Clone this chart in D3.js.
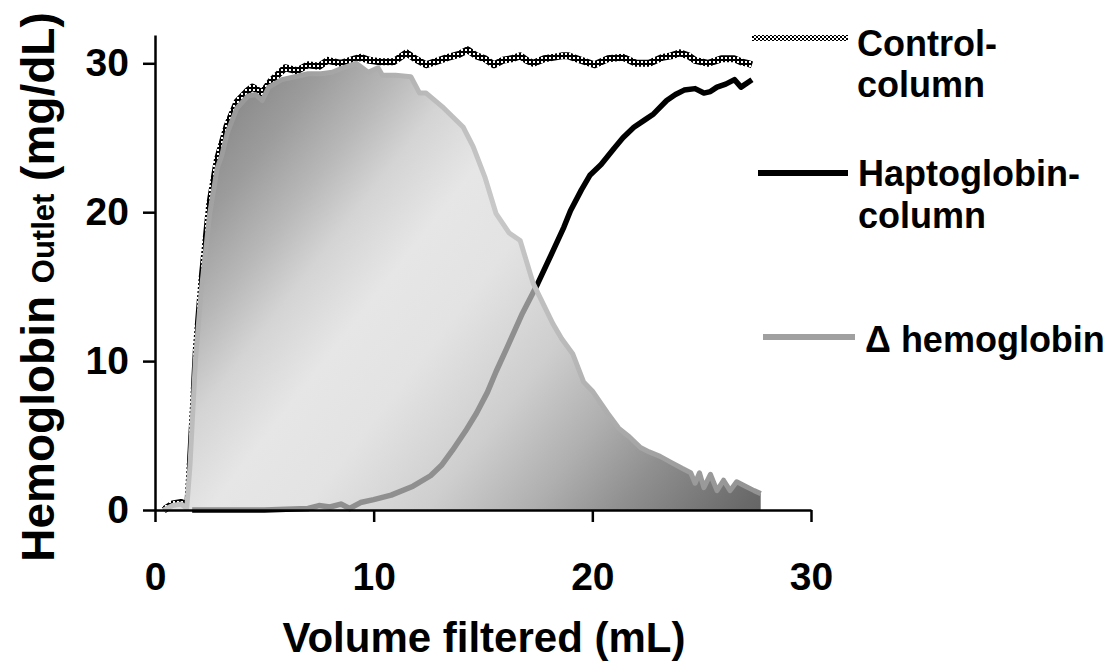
<!DOCTYPE html>
<html lang="en">
<head>
<meta charset="UTF-8">
<title>Hemoglobin outlet vs volume filtered</title>
<script src="https://d3js.org/d3.v7.min.js"></script>
<style>
  body { margin: 0; background: #fff; }
  svg text { font-family: Arial, "Liberation Sans", sans-serif; font-weight: bold; fill: #000; }
</style>
</head>
<body>
<div id="chart"></div>
<script>
// values (volume in mL, hemoglobin in mg/dL)
const controlVol = [0.4, 0.8, 1.2, 1.5, 1.65, 1.9, 2.15, 2.5, 2.85, 3.3, 3.75, 4.2, 4.45, 4.9, 5.3, 5.95, 6.5, 7.0, 7.5, 7.9, 8.5, 9.15, 9.4, 9.8, 10.3, 10.9, 11.5, 11.9, 12.4, 13.0, 13.4, 13.9, 14.3, 14.7, 15.1, 15.5, 15.9, 16.3, 16.7, 17.0, 17.3, 17.8, 18.2, 18.6, 18.9, 19.5, 20.1, 20.7, 21.4, 22.0, 22.6, 23.2, 23.6, 24.0, 24.4, 24.7, 25.3, 25.9, 26.5, 26.8, 27.1, 27.3];
const controlHb = [0, 0.4, 0.5, 0.3, 4, 11, 15.5, 20.5, 23.5, 25.8, 27.4, 28.1, 28.4, 28.0, 28.8, 29.7, 29.5, 29.9, 29.8, 30.2, 30.0, 30.3, 30.4, 30.2, 30.1, 30.1, 30.7, 30.3, 29.9, 30.2, 30.4, 30.6, 30.9, 30.5, 30.3, 29.9, 30.2, 30.3, 30.5, 30.2, 30.0, 30.3, 30.4, 30.5, 30.5, 30.2, 29.9, 30.3, 30.4, 30.0, 30.0, 30.4, 30.5, 30.7, 30.5, 30.2, 30.0, 30.3, 30.3, 30.1, 30.0, 29.9];

const haptoVol = [1.7, 3, 5, 7, 7.5, 8, 8.5, 8.9, 9.4, 10, 10.8, 11.8, 12.6, 13.1, 13.6, 14.2, 14.7, 15.2, 15.6, 16.1, 16.8, 17.5, 18.2, 18.7, 19.0, 19.5, 19.9, 20.4, 21.0, 21.4, 21.9, 22.4, 22.8, 23.4, 23.8, 24.2, 24.7, 25.1, 25.4, 25.7, 26.1, 26.5, 26.8, 27.3];
const haptoHb = [0, 0, 0, 0.1, 0.3, 0.2, 0.4, 0.1, 0.5, 0.7, 1.0, 1.6, 2.3, 3.0, 4.0, 5.3, 6.5, 7.9, 9.3, 10.9, 13.2, 15.2, 17.4, 19.0, 20.1, 21.5, 22.5, 23.2, 24.3, 25.0, 25.7, 26.2, 26.6, 27.5, 27.9, 28.2, 28.3, 28.0, 28.1, 28.4, 28.6, 28.9, 28.4, 28.9];

const deltaVol = [0.4, 0.8, 1.2, 1.45, 1.6, 1.85, 2.1, 2.5, 2.85, 3.05, 3.3, 3.75, 4.25, 4.6, 4.9, 5.2, 5.8, 6.4, 7.0, 7.6, 8.1, 8.6, 9.2, 9.75, 10.2, 10.4, 11.0, 11.7, 12.1, 12.4, 13.2, 14.1, 14.55, 15.1, 15.6, 16.2, 16.7, 17.3, 18.2, 18.6, 19.1, 19.6, 20.0, 20.7, 21.2, 21.7, 22.2, 22.6, 23.1, 23.6, 24.1, 24.5, 24.7, 24.9, 25.1, 25.4, 25.7, 26.0, 26.3, 26.6, 27.0, 27.4, 27.7];
const deltaHb = [0, 0.3, 0.4, 0.1, 3, 10.1, 14.5, 19.9, 23, 23.8, 25.3, 27.0, 27.8, 27.9, 27.5, 28.4, 28.9, 29.1, 29.3, 29.3, 29.4, 29.7, 30.0, 29.4, 29.7, 29.2, 29.2, 29.1, 28.0, 28.0, 27.0, 25.7, 24.4, 22.3, 19.9, 18.6, 18.1, 15.2, 12.5, 11.5, 10.5, 8.6, 8.0, 6.5, 5.5, 4.9, 4.2, 3.9, 3.6, 3.2, 2.8, 2.5, 1.8, 2.5, 1.5, 2.4, 1.3, 2.0, 1.3, 1.9, 1.6, 1.3, 1.1];

const xTicks = [0, 10, 20, 30];
const yTicks = [0, 10, 20, 30];
const legendLabels = [["Control-", "column"], ["Haptoglobin-", "column"], ["\u0394 hemoglobin"]];

const W = 1120, H = 664;
const svg = d3.select("#chart").append("svg")
    .attr("width", W)
    .attr("height", H);

const x = d3.scaleLinear().domain([0, 30]).range([155, 811]);
const y = d3.scaleLinear().domain([0, 31.9]).range([510, 35]);

const defs = svg.append("defs");

// square-marker look for the control line
const pat = defs.append("pattern")
    .attr("id", "boxes")
    .attr("patternUnits", "userSpaceOnUse")
    .attr("width", 4).attr("height", 4);
pat.append("rect").attr("width", 4).attr("height", 4).attr("fill", "#000");
pat.append("rect").attr("x", 1).attr("y", 1).attr("width", 2).attr("height", 2).attr("fill", "#fff");

// fine checker for the legend swatch
const chk = defs.append("pattern")
    .attr("id", "checker")
    .attr("patternUnits", "userSpaceOnUse")
    .attr("width", 4).attr("height", 4);
chk.append("rect").attr("width", 4).attr("height", 4).attr("fill", "#fff");
chk.append("rect").attr("width", 2).attr("height", 2).attr("fill", "#000");
chk.append("rect").attr("x", 2).attr("y", 2).attr("width", 2).attr("height", 2).attr("fill", "#000");

function grad(id, stops) {
    const g = defs.append("linearGradient")
        .attr("id", id)
        .attr("gradientUnits", "userSpaceOnUse")
        .attr("x1", 180).attr("y1", 60)
        .attr("x2", 770).attr("y2", 520);
    stops.forEach(s => g.append("stop").attr("offset", s[0]).attr("stop-color", s[1]));
}
grad("deltaFill", [[0, "#777"], [0.08, "#888"], [0.16, "#9c9c9c"], [0.24, "#b8b8b8"], [0.31, "#d4d4d4"],
    [0.4, "#e6e6e6"], [0.5, "#e3e3e3"], [0.63, "#cecece"], [0.74, "#afafaf"], [0.83, "#909090"], [0.96, "#6a6a6a"], [1, "#626262"]]);
grad("deltaLine", [[0, "#8c8c8c"], [0.1, "#999"], [0.3, "#bcbcbc"], [0.45, "#c8c8c8"], [0.63, "#bbb"],
    [0.83, "#a2a2a2"], [1, "#8e8e8e"]]);

const control = controlVol.map((v, i) => [v, controlHb[i]]);
const hapto = haptoVol.map((v, i) => [v, haptoHb[i]]);
const delta = deltaVol.map((v, i) => [v, deltaHb[i]]);

const line = d3.line().x(d => x(d[0])).y(d => y(d[1]));
const area = d3.area().x(d => x(d[0])).y0(y(0)).y1(d => y(d[1]));

defs.append("clipPath").attr("id", "deltaClip")
    .append("path").attr("d", area(delta));

svg.append("path")
    .attr("d", line(control))
    .attr("fill", "none")
    .attr("stroke", "url(#boxes)")
    .attr("stroke-width", 7)
    .attr("stroke-linejoin", "round");

svg.append("path")
    .attr("d", line(hapto))
    .attr("fill", "none")
    .attr("stroke", "#000")
    .attr("stroke-width", 5.5)
    .attr("stroke-linejoin", "round");

svg.append("path")
    .attr("d", area(delta))
    .attr("fill", "url(#deltaFill)");

svg.append("path")
    .attr("d", line(hapto))
    .attr("clip-path", "url(#deltaClip)")
    .attr("fill", "none")
    .attr("stroke", "#8f8f8f")
    .attr("stroke-width", 5.5)
    .attr("stroke-linejoin", "round");

svg.append("path")
    .attr("d", line(delta))
    .attr("fill", "none")
    .attr("stroke", "url(#deltaLine)")
    .attr("stroke-width", 5)
    .attr("stroke-linejoin", "round");

// axes
const xAxis = svg.append("g")
    .attr("transform", `translate(0,${y(0)})`)
    .call(d3.axisBottom(x).tickValues(xTicks).tickSize(12).tickSizeOuter(0).tickPadding(40));
const yAxis = svg.append("g")
    .attr("transform", `translate(${x(0)},0)`)
    .call(d3.axisLeft(y).tickValues(yTicks).tickSize(12).tickSizeOuter(0).tickPadding(14));

[xAxis, yAxis].forEach(a => {
    a.selectAll("path, line").attr("stroke", "#000").attr("stroke-width", 2.5);
    a.selectAll("text").attr("font-size", 39).attr("font-family", null).attr("fill", "#000");
});

svg.append("text")
    .attr("x", 484).attr("y", 652)
    .attr("text-anchor", "middle")
    .attr("font-size", 42)
    .text("Volume filtered (mL)");

const yt = svg.append("text")
    .attr("transform", "translate(54,287) rotate(-90)")
    .attr("text-anchor", "middle")
    .attr("font-size", 46);
yt.append("tspan").text("Hemoglobin ");
yt.append("tspan").attr("font-size", 31).text("Outlet");
yt.append("tspan").text(" (mg/dL)");

// legend
const legend = [
    { x1: 752, x2: 848, sy: 38, tx: 857, base: [56, 97], stroke: "url(#checker)", w: 6 },
    { x1: 758, x2: 848, sy: 173, tx: 858, base: [186, 228], stroke: "#000", w: 6 },
    { x1: 763, x2: 855, sy: 337, tx: 865, base: [352], stroke: "#a0a0a0", w: 6 }
];
legend.forEach((l, i) => {
    svg.append("line")
        .attr("x1", l.x1).attr("x2", l.x2)
        .attr("y1", l.sy).attr("y2", l.sy)
        .attr("stroke", l.stroke)
        .attr("stroke-width", l.w);
    legendLabels[i].forEach((t, j) => {
        svg.append("text")
            .attr("x", l.tx).attr("y", l.base[j])
            .attr("font-size", 36)
            .text(t);
    });
});
</script>
</body>
</html>
